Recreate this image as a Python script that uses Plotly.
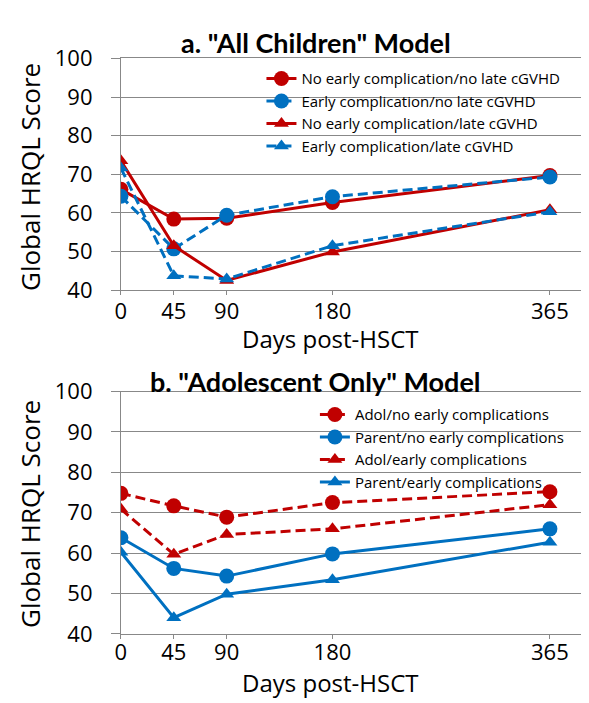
import plotly.graph_objects as go

days = [0, 45, 90, 180, 365]
x_ticks = [0, 45, 90, 180, 365]
y_ticks = [40, 50, 60, 70, 80, 90, 100]

# Panel a: "All Children" Model
a_names = ["No early complication/no late cGVHD",
           "Early complication/no late cGVHD",
           "No early complication/late cGVHD",
           "Early complication/late cGVHD"]
a_noearly_nolate = [66.1, 58.4, 58.6, 62.7, 69.7]
a_early_nolate = [64.3, 50.7, 59.4, 64.2, 69.3]
a_noearly_late = [73.5, 51.5, 42.5, 49.9, 60.8]
a_early_late = [71.6, 43.7, 42.9, 51.5, 60.3]

# Panel b: "Adolescent Only" Model
b_names = ["Adol/no early complications",
           "Parent/no early complications",
           "Adol/early complications",
           "Parent/early complications"]
b_adol_noearly = [74.8, 71.7, 68.9, 72.5, 75.2]
b_parent_noearly = [63.8, 56.2, 54.3, 59.8, 66.0]
b_adol_early = [70.9, 59.7, 64.6, 66.0, 72.0]
b_parent_early = [60.2, 44.0, 49.8, 53.4, 62.7]

RED = "#C00000"
BLUE = "#0070C0"
DASH = "10px,5px"
FONT = "Open Sans"
TFONT = "Lato"

fig = go.Figure()

a_series = [
    (a_names[0], a_noearly_nolate, RED, "solid", "circle"),
    (a_names[1], a_early_nolate, BLUE, DASH, "circle"),
    (a_names[2], a_noearly_late, RED, "solid", "triangle-up"),
    (a_names[3], a_early_late, BLUE, DASH, "triangle-up"),
]
for name, vals, col, dash, sym in a_series:
    fig.add_trace(go.Scatter(
        x=days, y=vals, name=name, mode="lines+markers",
        line=dict(color=col, width=3, dash=dash),
        marker=dict(symbol=sym, size=15 if sym == "circle" else 13, color=col),
        xaxis="x", yaxis="y", legend="legend"))

b_series = [
    (b_names[0], b_adol_noearly, RED, DASH, "circle"),
    (b_names[1], b_parent_noearly, BLUE, "solid", "circle"),
    (b_names[2], b_adol_early, RED, DASH, "triangle-up"),
    (b_names[3], b_parent_early, BLUE, "solid", "triangle-up"),
]
for name, vals, col, dash, sym in b_series:
    fig.add_trace(go.Scatter(
        x=days, y=vals, name=name, mode="lines+markers",
        line=dict(color=col, width=3, dash=dash),
        marker=dict(symbol=sym, size=15 if sym == "circle" else 13, color=col),
        xaxis="x2", yaxis="y2", legend="legend2"))

W, H = 589, 703
def px_x(p):
    return p / W
def px_y(p):
    return 1 - p / H

xdom = [px_x(108), px_x(583)]
xaxis_common = dict(
    range=[0, 400], tickvals=x_ticks, ticktext=[str(t) for t in x_ticks],
    showgrid=False, zeroline=False, showline=True, linecolor="#888888",
    linewidth=1, mirror=True, ticks="outside", ticklen=4, tickcolor="#888888",
    tickfont=dict(family=FONT, size=22, color="black"), fixedrange=True)
yaxis_common = dict(
    range=[40, 100], tickvals=y_ticks, showgrid=True, gridcolor="#888888",
    gridwidth=1, zeroline=False, showline=True, linecolor="#888888",
    linewidth=1, mirror=True, ticks="outside", ticklen=9, tickcolor="#888888",
    ticklabelstandoff=14,
    tickfont=dict(family=FONT, size=22, color="black"), fixedrange=True)

fig.update_layout(
    width=W, height=H,
    margin=dict(l=0, r=0, t=0, b=0),
    paper_bgcolor="white", plot_bgcolor="white",
    font=dict(family=FONT, color="black"),
    xaxis=dict(domain=xdom, anchor="y", ticklabelstandoff=-3, **xaxis_common),
    yaxis=dict(domain=[px_y(278), px_y(36)], anchor="x", **yaxis_common),
    xaxis2=dict(domain=xdom, anchor="y2", ticklabelstandoff=-5, **xaxis_common),
    yaxis2=dict(domain=[px_y(637), px_y(384)], anchor="x2", **yaxis_common),
    legend=dict(x=px_x(250), y=px_y(40), xanchor="left", yanchor="top",
                bgcolor="rgba(0,0,0,0)", font=dict(family=FONT, size=15),
                tracegroupgap=0, itemwidth=30),
    legend2=dict(x=px_x(304), y=px_y(391), xanchor="left", yanchor="top",
                 bgcolor="rgba(0,0,0,0)", font=dict(family=FONT, size=15),
                 tracegroupgap=0, itemwidth=30),
    showlegend=True,
)

annotations = [
    dict(text='<b>a. "All Children" Model</b>', x=px_x(305), y=px_y(19),
         font=dict(size=27, family=TFONT)),
    dict(text='<b>b. "Adolescent Only" Model</b>', x=px_x(305), y=px_y(373),
         font=dict(size=27, family=TFONT)),
    dict(text="Days post-HSCT", x=px_x(319), y=px_y(329), font=dict(size=24)),
    dict(text="Days post-HSCT", x=px_x(319), y=px_y(688), font=dict(size=24)),
    dict(text="Global HRQL Score", x=px_x(16), y=px_y(160), textangle=-90,
         font=dict(size=26)),
    dict(text="Global HRQL Score", x=px_x(16), y=px_y(512), textangle=-90,
         font=dict(size=26)),
]
for a in annotations:
    a.update(xref="paper", yref="paper", showarrow=False,
             xanchor="center", yanchor="middle")
    a["font"].update(color="black")
    a["font"].setdefault("family", FONT)
fig.update_layout(annotations=annotations)

fig.write_html("out.html")
